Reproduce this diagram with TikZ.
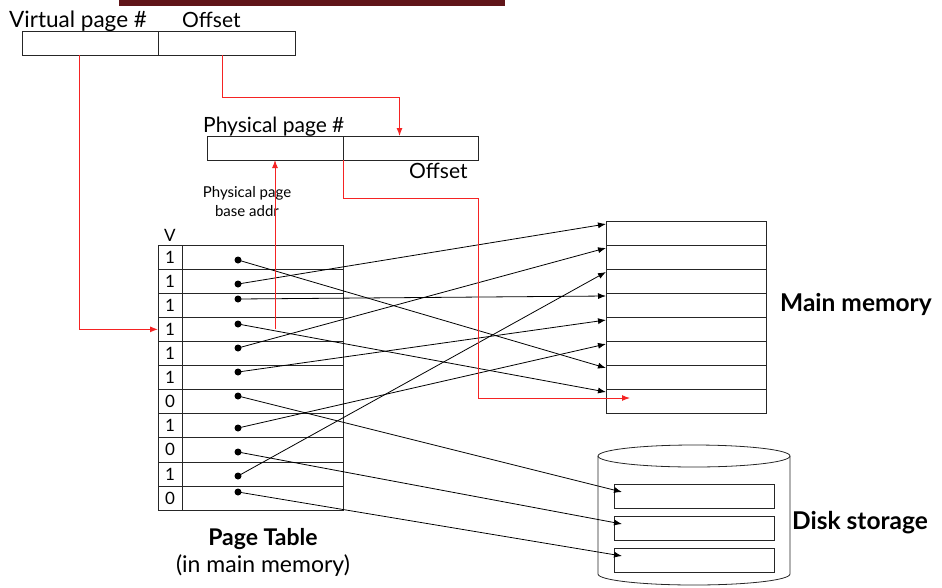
\documentclass[tikz,border=0pt]{standalone}
\usepackage{fontspec}
\setmainfont{Lato}
\usetikzlibrary{positioning}
\usetikzlibrary{arrows.meta}
\usetikzlibrary{calc}
\definecolor{barmaroon}{RGB}{96,21,25}
\definecolor{transred}{RGB}{245,35,35}
\begin{document}
\begin{tikzpicture}[x=1pt,y=-1pt,
            cell/.style={draw=black!85,line width=0.8pt,inner sep=0pt,outer sep=0pt,
            anchor=north west,minimum height=24pt},
            vcell/.style={cell,minimum width=24pt,minimum height=24.1pt,font=\fontsize{17}{17}\selectfont},
            pcell/.style={cell,minimum width=161pt,minimum height=24.1pt},
            memcell/.style={cell,minimum width=160pt},
            label/.style={anchor=base west,inner sep=0pt,font=\fontsize{21}{21}\selectfont},
            heading/.style={label,font=\bfseries\fontsize{24.5}{24.5}\selectfont},
            small/.style={font=\fontsize{15}{19}\selectfont,align=center,inner sep=0pt},
            link/.style={line width=0.8pt,-{Latex[length=8pt,width=6pt]}},
            redlink/.style={transred,line width=1pt,-{Latex[length=8pt,width=6pt]}}]
        \useasboundingbox (0,0) rectangle (942,587);
        \fill[barmaroon] (119,0) rectangle (505,6);

        \node[cell,minimum width=136pt] (vpn) at (22,31) {};
        \node[cell,minimum width=137pt] (voff) at (158,31) {};
        \node[label,font=\fontsize{22.5}{22.5}\selectfont] (vpn-label) at (9,27) {Virtual page \#};
        \node[label] (voff-label) at (182,27) {Offset};

        \node[cell,minimum width=136pt] (ppn) at (207,136) {};
        \node[cell,minimum width=135pt] (poff) at (343,136) {};
        \node[label] (ppn-label) at (203,132) {Physical page \#};
        \node[label] (poff-label) at (409,178) {Offset};

        \foreach \v [count=\i] in {1,1,1,1,1,1,0,1,0,1,0} {
            \node[vcell] (v\i) at (158,{245+(\i-1)*24.1}) {\v};
            \node[pcell] (pte\i) at (182,{245+(\i-1)*24.1}) {};
        }
        \node[small,anchor=base,font=\fontsize{17}{17}\selectfont] (v-label) at (v1.north |- 0,241) {V};
        \node[small,anchor=base] (addr-label) at (247,216) {Physical page\\base addr};
        \node[font=\bfseries\fontsize{23}{23}\selectfont,anchor=base,inner sep=0pt] (pt-label) at (263,545) {Page Table};
        \node[font=\fontsize{23}{23}\selectfont,anchor=base,inner sep=0pt] (pt-sub) at (263,572) {(in main memory)};

        \foreach \i/\y in {1/260,2/284,3/299,4/324,5/348,6/372,7/396,8/428,9/452,10/476,11/492} {
            \coordinate (d\i) at (238,\y);
            \fill (d\i) circle (3.5pt);
        }

        \foreach \i in {1,...,8}
            \node[memcell] (m\i) at (606,{221+(\i-1)*24}) {};
        \node[heading] (mem-label) at (780,311) {Main memory};

        \draw[cell] (598,456) -- (598,574) arc[start angle=180,end angle=360,x radius=96pt,y radius=11pt] -- (790,456);
        \draw[cell] (694,456) ellipse [x radius=96pt,y radius=11pt];
        \foreach \i/\y in {1/484,2/516,3/548}
            \node[memcell] (k\i) at (614,\y) {};
        \node[heading] (disk-label) at (792,529) {Disk storage};

        \foreach \s/\t in {1/7,2/1,3/4,4/8,5/2,6/5,8/6,10/3}
            \draw[link] (d\s) -- ([yshift=-3pt]m\t.north west);
        \foreach \s/\t in {7/1,9/2,11/3}
            \draw[link] (d\s) -- ([xshift=8pt,yshift=-8pt]k\t.north west);

        \draw[redlink] ([xshift=-11pt]vpn.south) |- (v4.west);
        \draw[redlink] ([xshift=-4pt]voff.south) -- ++(0,42) -| ([xshift=-11pt]poff.north);
        \draw[redlink] (pte4.center -| ppn.south) -- (ppn.south);
        \draw[redlink] (ppn.south east) |- ([yshift=-38pt]poff.south east) |- ([xshift=24pt,yshift=3pt]m8.west);
    \end{tikzpicture}
\end{document}
